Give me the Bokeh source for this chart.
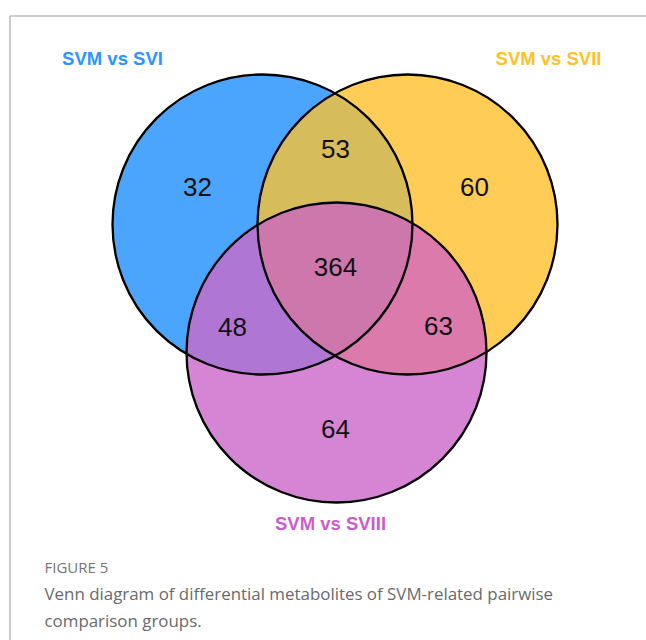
import numpy as np
from bokeh.plotting import figure
from bokeh.models import Range1d, ColumnDataSource
from bokeh.core.properties import value
from bokeh.embed import file_html
from bokeh.resources import INLINE

# ---- data ----
set_names = ["SVM vs SVI", "SVM vs SVII", "SVM vs SVIII"]
set_colors = ["#4ba5fd", "#ffcd55", "#d684d4"]
label_colors = ["#2d95ff", "#ffc12a", "#cc5ccc"]
# regions: tuple of member sets -> count
region_sets = [(0,), (1,), (2,), (0, 1), (0, 2), (1, 2), (0, 1, 2)]
region_counts = [32, 60, 64, 53, 48, 63, 364]
region_colors = ["#4ba5fd", "#ffcd55", "#d684d4", "#d6bc5a", "#b076d4", "#dc7aab", "#ce77ac"]

caption_title = "FIGURE 5"
caption_lines = ["Venn diagram of differential metabolites of SVM-related pairwise",
                 "comparison groups."]

# ---- layout (page pixel coordinates) ----
cx = [262, 407, 336]
cy = [224, 224, 352]
R = 150
region_pos = {(0,): (197, 186), (1,): (474, 186), (2,): (335, 428),
              (0, 1): (335, 148), (0, 2): (232, 326), (1, 2): (438, 325),
              (0, 1, 2): (335, 266)}
label_pos = [(112, 58), (548, 58), (330, 523)]

W, H = 646, 640
p = figure(width=W, height=H, output_backend="svg", toolbar_location=None,
           x_range=Range1d(0, W), y_range=Range1d(H, 0),
           min_border=0, outline_line_color=None)
p.axis.visible = False
p.grid.visible = False
p.background_fill_color = "white"
p.border_fill_color = "white"

# frame lines
p.line(x=[9.5, 700], y=[15.5, 15.5], line_color="#bdbdbd", line_width=1.5)
p.line(x=[9.5, 9.5], y=[15.5, 700], line_color="#bdbdbd", line_width=1.5)

# circles filled
p.circle(x=cx, y=cy, radius=R, fill_color=set_colors, line_color=None)

def intersection_poly(idx, n=1440):
    xs, ys = [], []
    t = np.linspace(0, 2 * np.pi, n, endpoint=False)
    for i in idx:
        px = cx[i] + R * np.cos(t)
        py = cy[i] + R * np.sin(t)
        mask = np.ones(n, dtype=bool)
        for j in idx:
            if j != i:
                mask &= (px - cx[j]) ** 2 + (py - cy[j]) ** 2 <= R ** 2 + 1e-6
        xs.append(px[mask]); ys.append(py[mask])
    xs = np.concatenate(xs); ys = np.concatenate(ys)
    mx, my = xs.mean(), ys.mean()
    order = np.argsort(np.arctan2(ys - my, xs - mx))
    return list(xs[order]), list(ys[order])

pxs, pys, pcs = [], [], []
for s, c in zip(region_sets, region_colors):
    if len(s) >= 2:
        a, b = intersection_poly(s)
        pxs.append(a); pys.append(b); pcs.append(c)
p.patches(xs=pxs, ys=pys, fill_color=pcs, line_color=None)

# outlines
p.circle(x=cx, y=cy, radius=R, fill_color=None, line_color="black", line_width=2.3)

# counts
src = ColumnDataSource(dict(
    x=[region_pos[s][0] for s in region_sets],
    y=[region_pos[s][1] for s in region_sets],
    t=[str(c) for c in region_counts]))
p.text(x="x", y="y", text="t", source=src, text_font=value("Liberation Sans"),
       text_font_size="26px", text_align="center", text_baseline="middle",
       text_color="#111111")

# set labels
p.text(x=[q[0] for q in label_pos], y=[q[1] for q in label_pos], text=set_names,
       text_color=label_colors, text_font=value("Liberation Sans"),
       text_font_style="bold", text_font_size="18.5px",
       text_align="center", text_baseline="middle")

# caption
p.text(x=[44], y=[566], text=[caption_title], text_color="#747474",
       text_font=value("Open Sans"), text_font_size="15px",
       text_align="left", text_baseline="middle")
p.text(x=[44, 44], y=[593, 620], text=caption_lines, text_color="#6a6a6a",
       text_font=value("Open Sans"), text_font_size="16.9px",
       text_align="left", text_baseline="middle")

open("out.html", "w").write(file_html(p, INLINE))
